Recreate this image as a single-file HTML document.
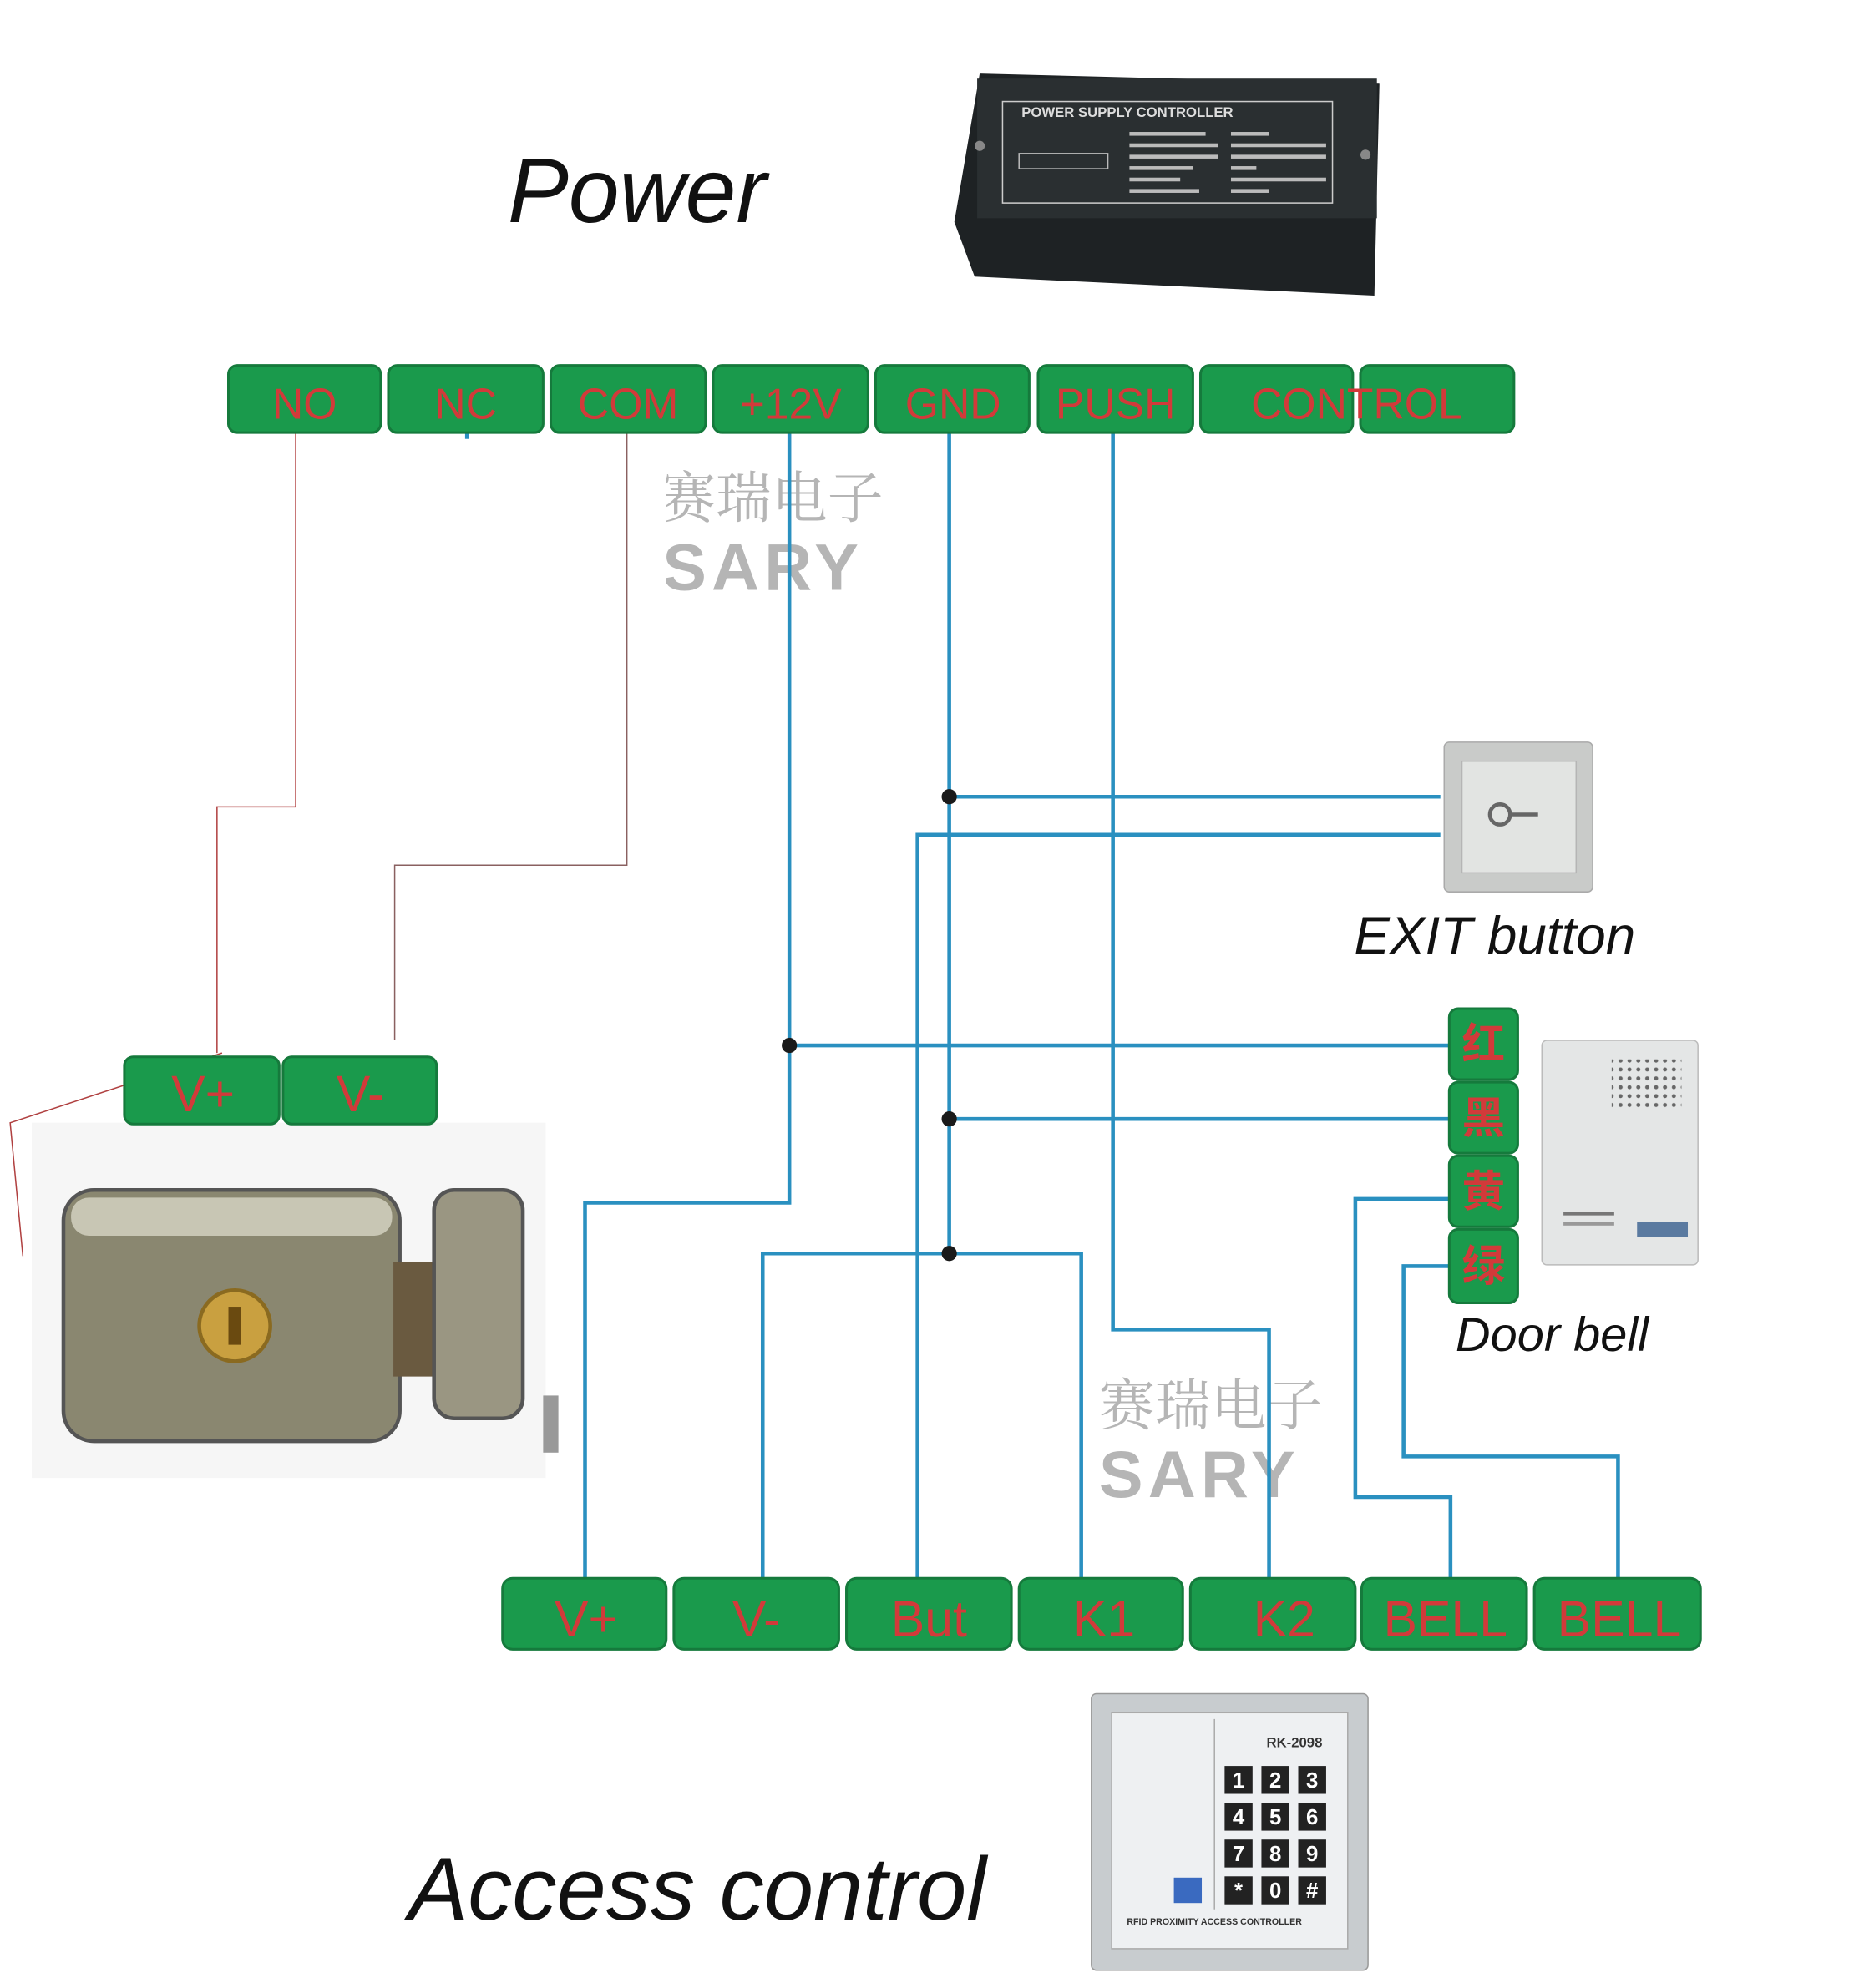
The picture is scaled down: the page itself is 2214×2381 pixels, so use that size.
<!DOCTYPE html>
<html><head><meta charset="utf-8"><style>
html,body{margin:0;padding:0;background:#fff;}
svg{display:block;}
.t{font-family:"Liberation Sans","Noto Sans CJK SC",sans-serif;}
</style></head><body>
<svg width="2214" height="2381" viewBox="0 0 1457 1567" preserveAspectRatio="none" xmlns="http://www.w3.org/2000/svg">
<rect width="1470" height="1581" fill="#fff"/>
<!-- power supply box -->
<polygon points="772,58 1087,66 1083,233 768,218 752,175" fill="#1e2224"/>
<rect x="770" y="62" width="315" height="110" fill="#2a2f31"/>
<rect x="790" y="80" width="260" height="80" fill="none" stroke="#ccc" stroke-width="1"/>
<text x="805" y="92" class="t" font-size="11" fill="#ddd" font-weight="bold" font-family="Liberation Serif">POWER SUPPLY CONTROLLER</text>
<g fill="#bbb"><rect x="890" y="104" width="60" height="3"/><rect x="890" y="113" width="70" height="3"/><rect x="890" y="122" width="70" height="3"/><rect x="890" y="131" width="50" height="3"/><rect x="890" y="140" width="40" height="3"/><rect x="890" y="149" width="55" height="3"/>
<rect x="970" y="104" width="30" height="3"/><rect x="970" y="113" width="75" height="3"/><rect x="970" y="122" width="75" height="3"/><rect x="970" y="131" width="20" height="3"/><rect x="970" y="140" width="75" height="3"/><rect x="970" y="149" width="30" height="3"/></g>
<rect x="803" y="121" width="70" height="12" fill="none" stroke="#bbb"/>
<circle cx="772" cy="115" r="4" fill="#888"/><circle cx="1076" cy="122" r="4" fill="#888"/>
<text x="400" y="175" class="t" font-size="72" font-style="italic" fill="#111">Power</text>

<!-- watermarks -->
<g fill="#b5b5b5" class="t" font-family="Liberation Serif,'Noto Serif CJK SC',serif">
<text x="520" y="408" font-size="44" font-family="'Noto Serif CJK SC',serif">赛瑞电子</text>
<text x="522" y="465" font-size="52" font-weight="bold" letter-spacing="4">SARY</text>
<text x="866" y="1123" font-size="44" font-family="'Noto Serif CJK SC',serif">赛瑞电子</text>
<text x="866" y="1180" font-size="52" font-weight="bold" letter-spacing="4">SARY</text>
</g>
<rect x="505" y="370" width="20" height="110" fill="#fff"/>

<!-- red/gray thin lines -->
<polyline points="233,341 233,636 171,636 171,830" fill="none" stroke="#b04040" stroke-width="1"/>
<polyline points="494,341 494,682 311,682 311,820" fill="none" stroke="#8a6060" stroke-width="1"/>
<polyline points="175,830 8,885 18,990" fill="none" stroke="#b04040" stroke-width="1"/>

<!-- blue wires -->
<g fill="none" stroke="#2a90c0" stroke-width="3">
<polyline points="622,341 622,948 461,948 461,1245"/>
<line x1="622" y1="824" x2="1142" y2="824"/>
<polyline points="748,341 748,988"/>
<line x1="748" y1="628" x2="1135" y2="628"/>
<line x1="748" y1="882" x2="1142" y2="882"/>
<polyline points="601,1245 601,988 852,988 852,1245"/>
<polyline points="877,341 877,1048 1000,1048 1000,1245"/>
<polyline points="723,1245 723,658 1135,658"/>
<polyline points="1143,1245 1143,1180 1068,1180 1068,945 1145,945"/>
<polyline points="1275,1245 1275,1148 1106,1148 1106,998 1145,998"/>
<line x1="368" y1="338" x2="368" y2="346"/>
</g>
<g fill="#1a1a1a"><circle cx="748" cy="628" r="6"/><circle cx="622" cy="824" r="6"/><circle cx="748" cy="882" r="6"/><circle cx="748" cy="988" r="6"/></g>

<!-- top terminals -->
<g class="t" font-size="34" fill="#d23a3a" text-anchor="middle">
<g fill="#1a9a4c" stroke="#157a3c" stroke-width="2">
<rect x="180" y="288" width="120" height="53" rx="7"/><rect x="306" y="288" width="122" height="53" rx="7"/>
<rect x="434" y="288" width="122" height="53" rx="7"/><rect x="562" y="288" width="122" height="53" rx="7"/>
<rect x="690" y="288" width="121" height="53" rx="7"/><rect x="818" y="288" width="122" height="53" rx="7"/>
<rect x="946" y="288" width="120" height="53" rx="7"/><rect x="1072" y="288" width="121" height="53" rx="7"/>
</g>
<text x="240" y="330">NO</text><text x="367" y="330">NC</text><text x="495" y="330">COM</text>
<text x="623" y="330">+12V</text><text x="751" y="330">GND</text><text x="879" y="330">PUSH</text>
<text x="1069" y="330">CONTROL</text>
</g>

<!-- exit button -->
<rect x="1138" y="585" width="117" height="118" rx="4" fill="#c9cbc9" stroke="#aaa"/>
<rect x="1152" y="600" width="90" height="88" fill="#e2e4e2" stroke="#b5b5b5"/>
<circle cx="1182" cy="642" r="8" fill="none" stroke="#666" stroke-width="3"/><line x1="1190" y1="642" x2="1212" y2="642" stroke="#666" stroke-width="3"/>
<text x="1067" y="752" class="t" font-size="42" font-style="italic" fill="#111">EXIT button</text>

<!-- door bell -->
<defs><pattern id="dots" width="7" height="7" patternUnits="userSpaceOnUse"><circle cx="3" cy="3" r="1.6" fill="#666"/></pattern></defs>
<rect x="1215" y="820" width="123" height="177" rx="4" fill="#e4e6e6" stroke="#bbb"/>
<rect x="1270" y="835" width="55" height="40" fill="url(#dots)"/>
<rect x="1290" y="963" width="40" height="12" fill="#5a7aa0"/>
<rect x="1232" y="955" width="40" height="3" fill="#777"/><rect x="1232" y="963" width="40" height="3" fill="#999"/>
<g class="t" fill="#d23a3a" font-size="34" text-anchor="middle" font-weight="bold">
<g fill="#1a9a4c" stroke="#157a3c" stroke-width="2">
<rect x="1142" y="795" width="54" height="56" rx="7"/><rect x="1142" y="853" width="54" height="56" rx="7"/>
<rect x="1142" y="911" width="54" height="56" rx="7"/><rect x="1142" y="969" width="54" height="58" rx="7"/>
</g>
<text x="1169" y="835">红</text><text x="1169" y="893">黑</text><text x="1169" y="951">黄</text><text x="1169" y="1010">绿</text>
</g>
<text x="1147" y="1065" class="t" font-size="38" font-style="italic" fill="#111">Door bell</text>

<!-- lock -->
<rect x="25" y="885" width="405" height="280" fill="#f6f6f6"/>
<rect x="50" y="938" width="265" height="198" rx="24" fill="#8a8770" stroke="#555" stroke-width="3"/>
<rect x="56" y="944" width="253" height="30" rx="14" fill="#c8c6b4"/>
<rect x="310" y="995" width="40" height="90" fill="#6a5a40"/>
<rect x="342" y="938" width="70" height="180" rx="16" fill="#9a9682" stroke="#555" stroke-width="3"/>
<circle cx="185" cy="1045" r="28" fill="#c9a040" stroke="#8a6a20" stroke-width="3"/>
<rect x="180" y="1030" width="10" height="30" fill="#6a4a10"/>
<rect x="428" y="1100" width="12" height="45" fill="#999"/>
<g class="t" font-size="40" fill="#d23a3a" text-anchor="middle">
<g fill="#1a9a4c" stroke="#157a3c" stroke-width="2">
<rect x="98" y="833" width="122" height="53" rx="7"/><rect x="223" y="833" width="121" height="53" rx="7"/>
</g>
<text x="160" y="876">V+</text><text x="284" y="876">V-</text>
</g>

<!-- bottom terminals -->
<g class="t" font-size="40" fill="#d23a3a" text-anchor="middle">
<g fill="#1a9a4c" stroke="#157a3c" stroke-width="2">
<rect x="396" y="1244" width="129" height="56" rx="8"/><rect x="531" y="1244" width="130" height="56" rx="8"/>
<rect x="667" y="1244" width="130" height="56" rx="8"/><rect x="803" y="1244" width="129" height="56" rx="8"/>
<rect x="938" y="1244" width="130" height="56" rx="8"/><rect x="1073" y="1244" width="130" height="56" rx="8"/>
<rect x="1209" y="1244" width="131" height="56" rx="8"/>
</g>
<text x="462" y="1290">V+</text><text x="596" y="1290">V-</text><text x="732" y="1290">But</text>
<text x="870" y="1290">K1</text><text x="1012" y="1290">K2</text><text x="1139" y="1290">BELL</text><text x="1276" y="1290">BELL</text>
</g>

<!-- keypad -->
<rect x="860" y="1335" width="218" height="218" rx="4" fill="#c8cccf" stroke="#999"/>
<rect x="876" y="1350" width="186" height="186" fill="#eef0f2" stroke="#aaa"/>
<line x1="957" y1="1355" x2="957" y2="1505" stroke="#aaa"/>
<text x="998" y="1377" class="t" font-size="11" fill="#333" font-weight="bold">RK-2098</text>
<g class="t" font-size="17" fill="#fff" text-anchor="middle" font-weight="bold">
<g fill="#222">
<rect x="965" y="1392" width="22" height="22"/><rect x="994" y="1392" width="22" height="22"/><rect x="1023" y="1392" width="22" height="22"/>
<rect x="965" y="1421" width="22" height="22"/><rect x="994" y="1421" width="22" height="22"/><rect x="1023" y="1421" width="22" height="22"/>
<rect x="965" y="1450" width="22" height="22"/><rect x="994" y="1450" width="22" height="22"/><rect x="1023" y="1450" width="22" height="22"/>
<rect x="965" y="1479" width="22" height="22"/><rect x="994" y="1479" width="22" height="22"/><rect x="1023" y="1479" width="22" height="22"/>
</g>
<text x="976" y="1409">1</text><text x="1005" y="1409">2</text><text x="1034" y="1409">3</text>
<text x="976" y="1438">4</text><text x="1005" y="1438">5</text><text x="1034" y="1438">6</text>
<text x="976" y="1467">7</text><text x="1005" y="1467">8</text><text x="1034" y="1467">9</text>
<text x="976" y="1496">*</text><text x="1005" y="1496">0</text><text x="1034" y="1496">#</text>
</g>
<rect x="925" y="1480" width="22" height="20" fill="#3a6ac0"/>
<text x="888" y="1517" class="t" font-size="7" fill="#333" font-weight="bold">RFID PROXIMITY ACCESS CONTROLLER</text>
<text x="322" y="1513" class="t" font-size="70" font-style="italic" fill="#111">Access control</text>
</svg>
</body></html>
